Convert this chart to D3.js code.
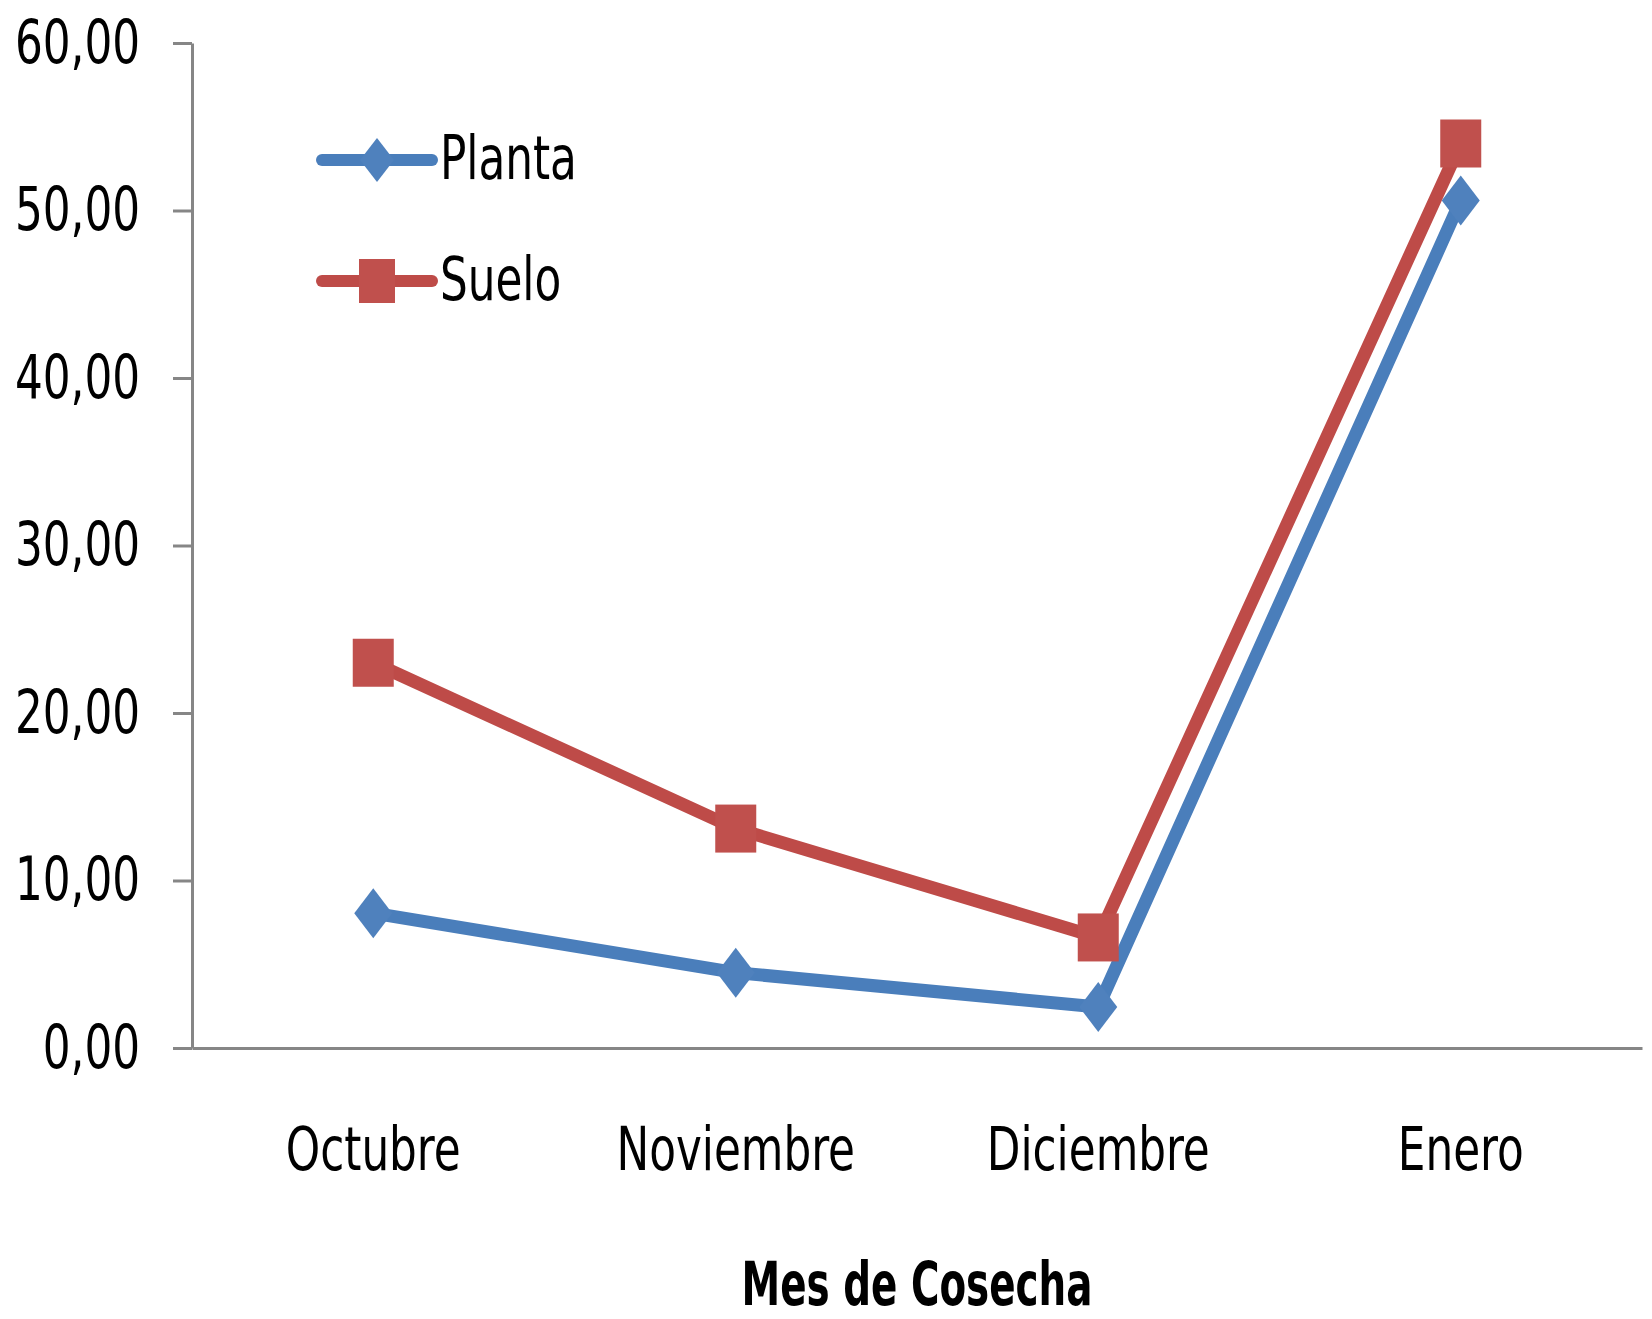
<!DOCTYPE html>
<html>
<head>
<meta charset="utf-8">
<script src="https://cdn.jsdelivr.net/npm/d3@7"></script>
<style>
  body { margin: 0; background: #fff; }
  svg text { font-family: "DejaVu Sans Condensed", "DejaVu Sans", sans-serif; fill: #000; }
</style>
</head>
<body>
<svg id="chart" width="1652" height="1319"></svg>
<script>
// data
var months = ["Octubre", "Noviembre", "Diciembre", "Enero"];
var planta = [8.05, 4.5, 2.45, 50.6];
var suelo = [23.0, 13.1, 6.6, 54.0];
var yTicks = [0, 10, 20, 30, 40, 50, 60];
var seriesNames = ["Planta", "Suelo"];

var svg = d3.select("#chart");

var x = d3.scaleBand().domain(months).range([192, 1642]);
var y = d3.scaleLinear().domain([0, 60]).range([1048, 43]);

var es = d3.formatLocale({ decimal: ",", thousands: ".", grouping: [3], currency: ["", "€"] });
var fmt = es.format(".2f");

var axisColor = "#868686";
var squeezeX = 0.81;   // the original font is narrow and tall
var squeezeBold = 0.72;

// move a text's x/y into a transform so it can be narrowed
function squeeze(sel, sx) {
  sel.each(function() {
    var t = d3.select(this);
    var tx = +t.attr("x") || 0, ty = +t.attr("y") || 0;
    t.attr("x", 0).attr("y", 0)
      .attr("transform", "translate(" + tx + "," + ty + ") scale(" + sx + ",1)");
  });
}

// y axis
var gy = svg.append("g")
  .attr("transform", "translate(192,0)")
  .call(d3.axisLeft(y).tickValues(yTicks).tickFormat(fmt).tickSize(19).tickSizeOuter(0).tickPadding(33));
gy.selectAll("path, line").attr("stroke", axisColor).attr("stroke-width", 3);
gy.selectAll("text")
  .attr("font-size", 60)
  .attr("dy", null)
  .attr("y", 19)
  .attr("font-family", null)
  .call(squeeze, squeezeX);

// x axis
var gx = svg.append("g")
  .attr("transform", "translate(0,1048)")
  .call(d3.axisBottom(x).tickSize(0).tickSizeOuter(0).tickPadding(0));
gx.select(".domain").attr("stroke", axisColor).attr("stroke-width", 3);
gx.selectAll("text")
  .attr("font-size", 60)
  .attr("dy", null)
  .attr("y", 122)
  .attr("font-family", null)
  .call(squeeze, squeezeX);

svg.append("text")
  .attr("x", (192 + 1642) / 2)
  .attr("y", 1305)
  .attr("text-anchor", "middle")
  .attr("font-size", 60)
  .attr("font-weight", "bold")
  .text("Mes de Cosecha")
  .call(squeeze, squeezeBold);

var cx = function(d, i) { return x(months[i]) + x.bandwidth() / 2; };

var line = d3.line()
  .x(function(d, i) { return cx(d, i); })
  .y(function(d) { return y(d); });

// diamond path, stretched taller than wide like the original
function diamond(w, h) {
  return "M0," + (-h / 2) + "L" + (w / 2) + ",0L0," + (h / 2) + "L" + (-w / 2) + ",0Z";
}

var series = [
  { name: "Planta", values: planta, line: "#4A7EBB", fill: "#4F81BD", shape: "diamond" },
  { name: "Suelo", values: suelo, line: "#BE4B48", fill: "#C0504D", shape: "square" }
];

series.forEach(function(s) {
  svg.append("path")
    .datum(s.values)
    .attr("d", line)
    .attr("fill", "none")
    .attr("stroke", s.line)
    .attr("stroke-width", 13)
    .attr("stroke-linejoin", "round");
});

series.forEach(function(s) {
  var g = svg.append("g");
  s.values.forEach(function(v, i) {
    if (s.shape == "square") {
      g.append("rect")
        .attr("x", cx(v, i) - 20.5)
        .attr("y", y(v) - 24)
        .attr("width", 41)
        .attr("height", 48)
        .attr("fill", s.fill);
    } else {
      g.append("path")
        .attr("d", diamond(38, 50))
        .attr("transform", "translate(" + cx(v, i) + "," + y(v) + ")")
        .attr("fill", s.fill);
    }
  });
});

// legend
var legend = svg.append("g");
var legendY = [160, 281];
series.forEach(function(s, i) {
  var ly = legendY[i];
  legend.append("line")
    .attr("x1", 322).attr("x2", 432)
    .attr("y1", ly).attr("y2", ly)
    .attr("stroke", s.line)
    .attr("stroke-width", 12)
    .attr("stroke-linecap", "round");
  if (s.shape == "square") {
    legend.append("rect")
      .attr("x", 359).attr("y", ly - 22)
      .attr("width", 36).attr("height", 44)
      .attr("fill", s.fill);
  } else {
    legend.append("path")
      .attr("d", diamond(34, 44))
      .attr("transform", "translate(377," + ly + ")")
      .attr("fill", s.fill);
  }
  legend.append("text")
    .attr("x", 440)
    .attr("y", ly + 19)
    .attr("font-size", 60)
    .text(seriesNames[i])
    .call(squeeze, squeezeX);
});
</script>
</body>
</html>
